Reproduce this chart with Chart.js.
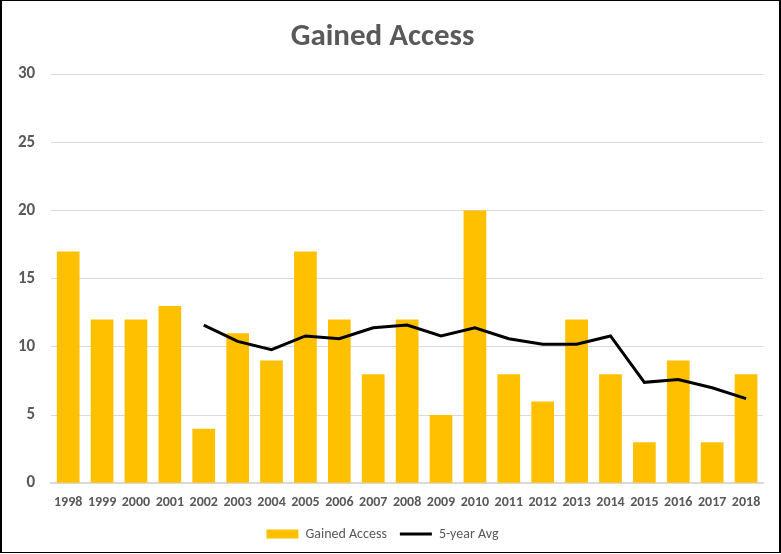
<!DOCTYPE html>
<html>
<head>
<meta charset="utf-8">
<script src="https://cdn.jsdelivr.net/npm/chart.js@4"></script>
<style>
  html, body { margin: 0; padding: 0; background: #fff; }
  #wrap { position: relative; width: 777px; height: 551px; border-left: 2px solid #000; border-top: 1px solid #000; border-right: 2px solid #000; border-bottom: 1px solid #000; }
</style>
</head>
<body>
<div id="wrap"><canvas id="chart"></canvas></div>
<script>
const years = ['1998', '1999', '2000', '2001', '2002', '2003', '2004', '2005', '2006', '2007', '2008',
  '2009', '2010', '2011', '2012', '2013', '2014', '2015', '2016', '2017', '2018'];
const gainedAccess = [17, 12, 12, 13, 4, 11, 9, 17, 12, 8, 12, 5, 20, 8, 6, 12, 8, 3, 9, 3, 8];
const fiveYearAvg = [null, null, null, null, 11.6, 10.4, 9.8, 10.8, 10.6, 11.4, 11.6,
  10.8, 11.4, 10.6, 10.2, 10.2, 10.8, 7.4, 7.6, 7.0, 6.2];

const grey = '#595959';
const font = 'Calibri, Carlito, Lato, sans-serif';

new Chart(document.getElementById('chart'), {
  data: {
    labels: years,
    datasets: [
      {
        type: 'line',
        label: '5-year Avg',
        data: fiveYearAvg,
        borderColor: '#000',
        backgroundColor: '#000',
        borderWidth: 3,
        pointRadius: 0,
        pointStyle: 'line',
        tension: 0,
        order: 0,
      },
      {
        type: 'bar',
        label: 'Gained Access',
        data: gainedAccess,
        backgroundColor: '#ffc000',
        pointStyle: 'rect',
        barPercentage: 1,
        categoryPercentage: 0.67,
        order: 1,
      },
    ],
  },
  options: {
    responsive: true,
    maintainAspectRatio: false,
    animation: false,
    layout: { padding: { left: 0, right: 16, top: 0, bottom: 1 } },
    plugins: {
      title: {
        display: true,
        text: 'Gained Access',
        color: grey,
        font: { family: font, size: 31, weight: 'bold' },
        padding: { top: 18, bottom: 18 },
      },
      legend: {
        position: 'bottom',
        reverse: true,
        labels: {
          color: grey,
          font: { family: font, size: 14 },
          usePointStyle: true,
          pointStyleWidth: 32,
          boxHeight: 9,
          padding: 13,
        },
      },
      tooltip: { enabled: false },
    },
    scales: {
      x: {
        grid: { display: false },
        border: { color: '#d9d9d9', width: 2 },
        ticks: { color: grey, font: { family: font, size: 14, weight: 'bold' }, maxRotation: 0, autoSkip: false, padding: 3 },
      },
      y: {
        min: 0,
        max: 30,
        ticks: { stepSize: 5, color: grey, font: { family: font, size: 17, weight: 'bold' }, padding: 16 },
        grid: { color: '#d9d9d9', drawTicks: false },
        border: { display: false },
      },
    },
  },
});
</script>
</body>
</html>
